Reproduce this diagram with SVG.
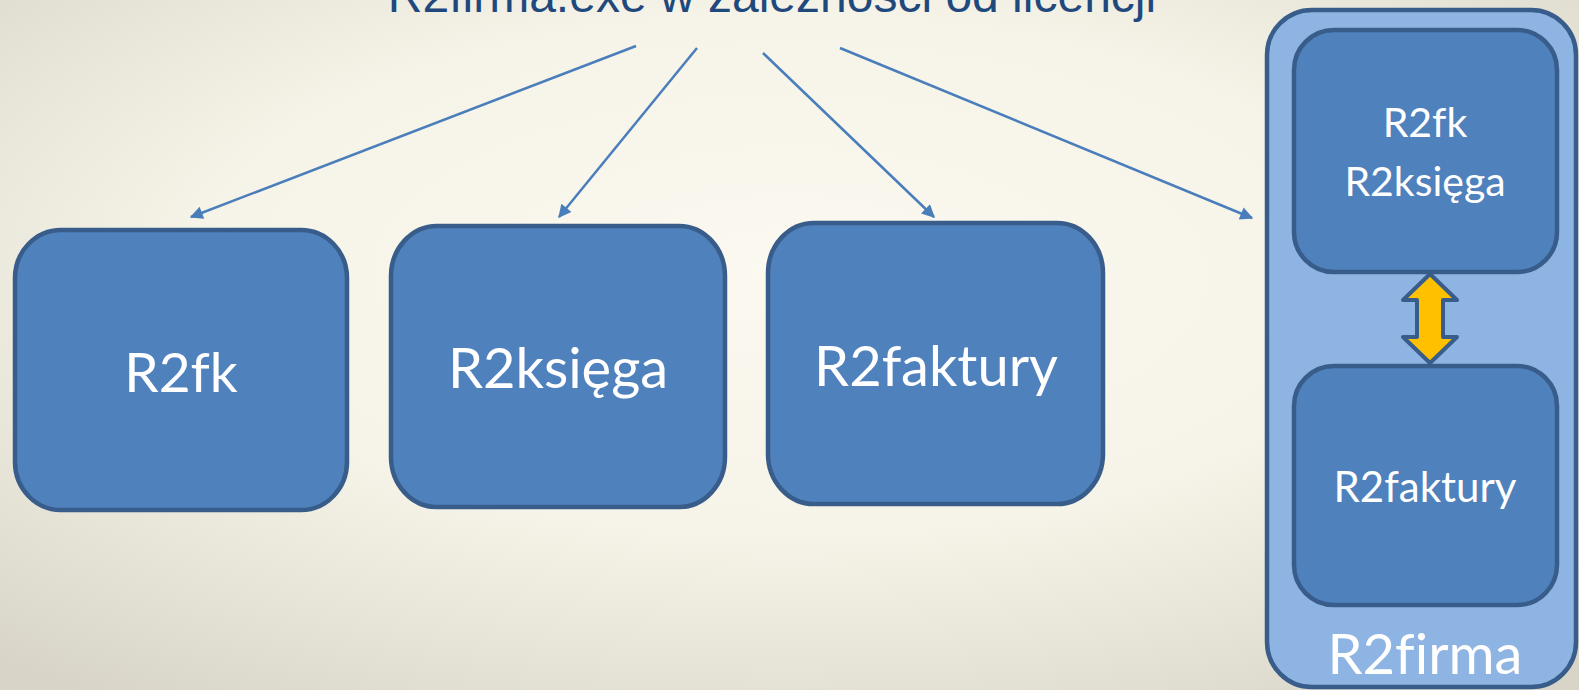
<svg xmlns="http://www.w3.org/2000/svg" width="1579" height="690" viewBox="0 0 1579 690">
<defs>
<radialGradient id="bg" cx="0.5" cy="0.4" r="0.75">
<stop offset="0" stop-color="#FBF9F0"/>
<stop offset="0.5" stop-color="#F6F3E8"/>
<stop offset="1" stop-color="#D8D5C8"/>
</radialGradient>
<marker id="ah" viewBox="0 0 10 10" refX="9" refY="5" markerWidth="16" markerHeight="13" markerUnits="userSpaceOnUse" orient="auto">
<path d="M0,0 L10,5 L0,10 z" fill="#4A7EBB"/>
</marker>
<style>
.box{fill:#4F81BD;stroke:#385D8A;stroke-width:4.5}
.cont{fill:#8EB4E3;stroke:#385D8A;stroke-width:4.5}
.lbl{fill:#FFFFFF;font-family:Lato,"Open Sans",sans-serif;text-anchor:middle;font-variant-ligatures:none;font-feature-settings:"liga" 0}
.big{font-size:55px}
.big2{font-size:56px}
.small{font-size:41px}
.conn line{stroke:#4A7EBB;stroke-width:2.5;marker-end:url(#ah)}
.title{fill:#1F497D;font-family:"Liberation Sans",Arial,sans-serif;font-size:48px;text-anchor:middle}
</style>
</defs>
<rect x="0" y="0" width="1579" height="690" fill="url(#bg)"/>
<text class="title" x="772" y="12">R2firma.exe w zależności od licencji</text>
<g id="connectors" class="conn">
<line x1="636" y1="46" x2="191" y2="217"/>
<line x1="697" y1="48" x2="559" y2="217"/>
<line x1="763" y1="53" x2="934" y2="217"/>
<line x1="840" y1="48" x2="1252" y2="218"/>
</g>
<g id="node-r2fk">
<rect class="box" x="15" y="230" width="332" height="280" rx="46" ry="48"/>
<text class="lbl big" x="181" y="392">R2fk</text>
</g>
<g id="node-r2ksiega">
<rect class="box" x="391" y="226" width="334" height="281" rx="46" ry="50"/>
<text class="lbl big2" x="558" y="388">R2księga</text>
</g>
<g id="node-r2faktury">
<rect class="box" x="768" y="223" width="335" height="281" rx="46" ry="50"/>
<text class="lbl big2" x="936" y="386">R2faktury</text>
</g>
<g id="node-r2firma">
<rect class="cont" x="1267" y="10" width="309" height="677" rx="45" ry="45"/>
<text class="lbl big2" x="1425" y="674">R2firma</text>
</g>
<g id="node-r2firma-top">
<rect class="box" x="1294" y="30" width="263" height="242" rx="40" ry="40"/>
<text class="lbl small" x="1425" y="137">R2fk</text>
<text class="lbl small" x="1425" y="196">R2księga</text>
</g>
<g id="node-r2firma-bottom">
<rect class="box" x="1294" y="366" width="263" height="239" rx="40" ry="40"/>
<text class="lbl small" x="1425" y="502" style="font-size:42px">R2faktury</text>
</g>
<g id="double-arrow">
<path d="M1430,274 L1457,300 L1443,300 L1443,337 L1457,337 L1430,363 L1403,337 L1417,337 L1417,300 L1403,300 Z" fill="#FFC000" stroke="#385D8A" stroke-width="4" stroke-linejoin="round"/>
</g>
</svg>
